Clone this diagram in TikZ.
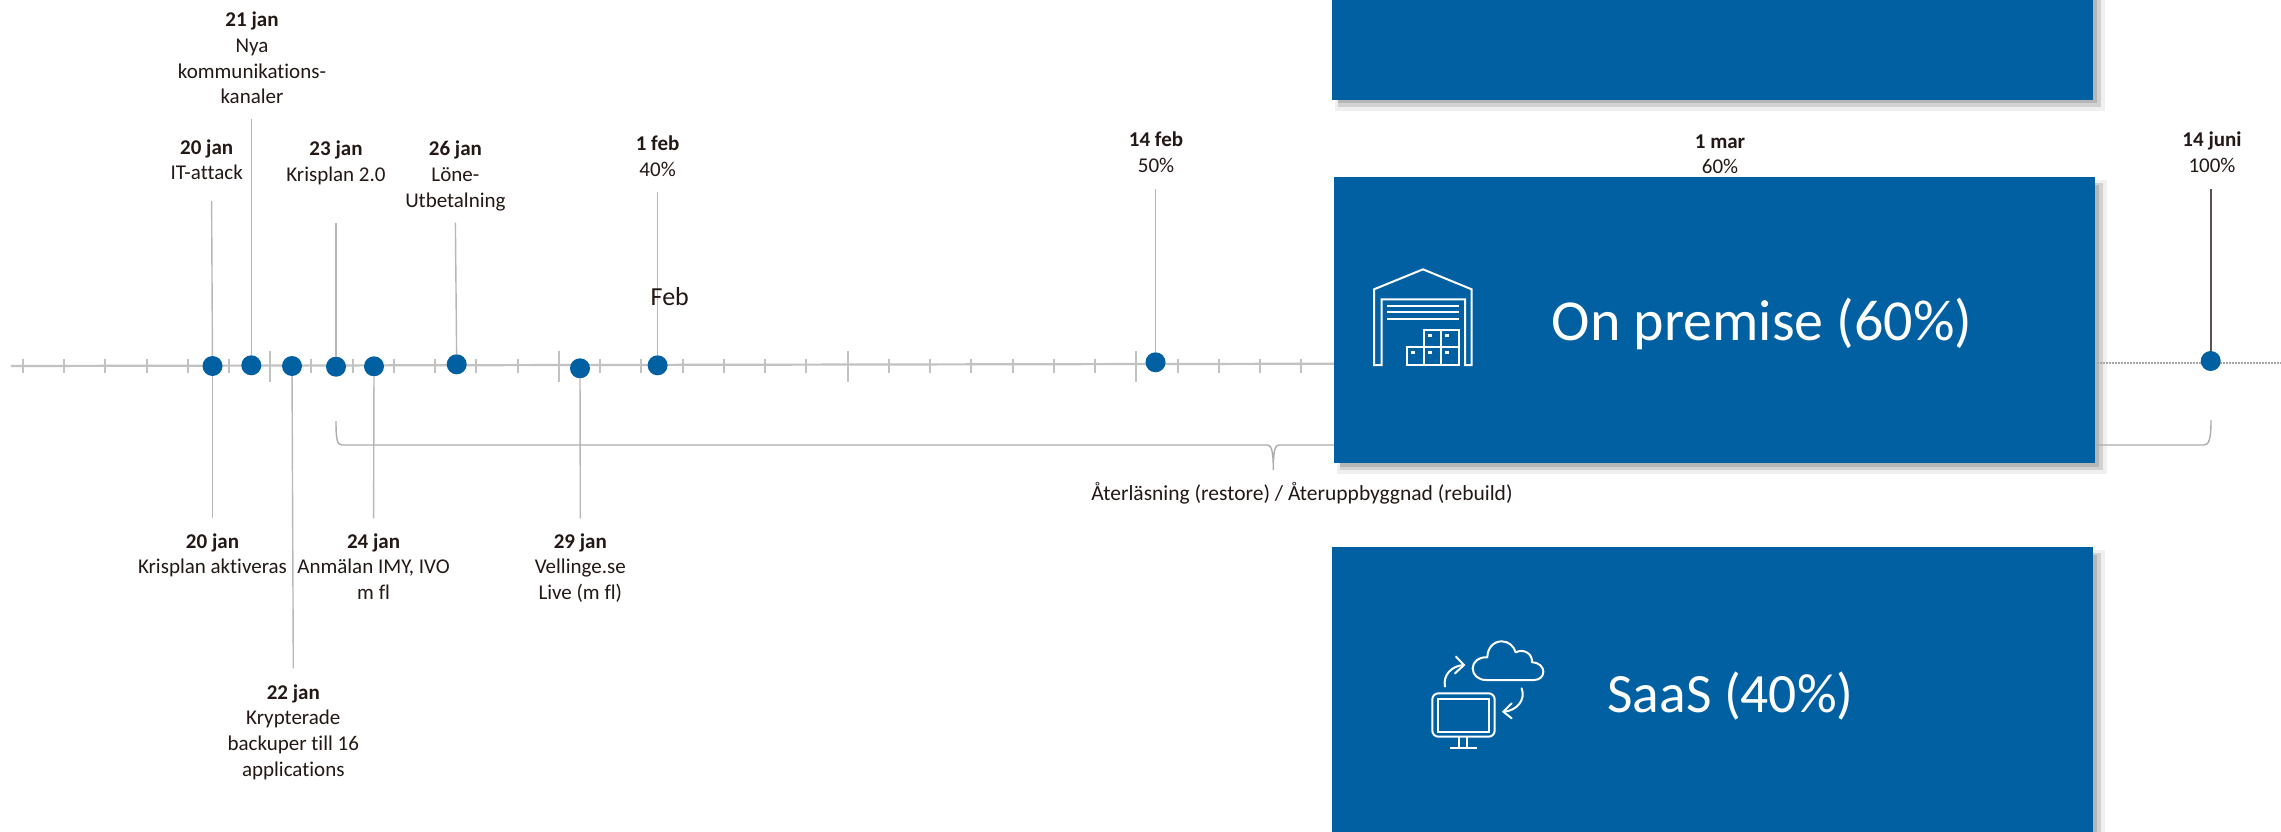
\documentclass[tikz,border=0pt]{standalone}
\usepackage{fontspec}
\setmainfont[Ligatures=CommonOff]{Carlito}
\definecolor{vblue}{HTML}{0060A2}
\definecolor{ink}{HTML}{231815}
\definecolor{axisgrey}{HTML}{C2C2C2}
\definecolor{stemgrey}{HTML}{B8B8B8}
\definecolor{shA}{HTML}{B6B6B6}
\definecolor{shB}{HTML}{D2D2D2}
\definecolor{shC}{HTML}{F0F0F0}
\tikzset{
  bluebox/.style={fill=vblue,draw=none,inner sep=0pt,outer sep=0pt,anchor=north west},
  dotnode/.style={circle,fill=vblue,draw=none,inner sep=0pt,outer sep=0pt,minimum size=20pt},
  stem/.style={draw=stemgrey,line width=1.4pt},
  darkstem/.style={draw=ink!75,line width=1.6pt},
  axisline/.style={draw=axisgrey,line width=2.2pt},
  tickline/.style={draw=axisgrey,line width=2pt},
  dotline/.style={draw=black!35,line width=2pt,dash pattern=on 1.5pt off 1.5pt},
  bracketline/.style={draw=black!32,line width=1.4pt},
  lbl/.style={anchor=north,inner sep=0pt,outer sep=0pt,align=center,text=ink,font=\fontsize{21}{25.7}\selectfont},
  febtext/.style={anchor=base west,inner sep=0pt,text=ink,font=\fontsize{26}{30}\selectfont},
  bigtext/.style={anchor=base,inner sep=0pt,text=white,font=\fontsize{58}{64}\selectfont},
  icon/.style={draw=white,line width=2pt,line join=miter},
}
\newcommand{\evlabel}[5]{\node[lbl] (#1) at (#2,#3-18) {\strut\textbf{#4}\\#5};}
\newcommand{\shadowbands}[4]{%
  \fill[shC] (#1+3,#2+3) rectangle (#3+12,#4+11);
  \fill[shB] (#1+6,#2+6) rectangle (#3+8,#4+7);
  \fill[shA] (#1+6,#2+8) rectangle (#3+4,#4+3.5);}
\begin{document}
\begin{tikzpicture}[x=1pt,y=-1pt]
\useasboundingbox (0,0) rectangle (2281,832);
\fill[white] (0,0) rectangle (2281,832);

% box shadows lie under the lines
\shadowbands{1332}{-12}{2093}{100}
\shadowbands{1334}{177}{2095}{463}
\shadowbands{1332}{547}{2093}{850}

% axis
\coordinate (axL) at (11,366);
\coordinate (axR) at (1340,363.7);
\coordinate (axDotL) at (2097,362.7);
\coordinate (axDotR) at (2281,362.7);
\draw[axisline] (axL) -- (axR);
\foreach \i in {0,...,31}{
  \pgfmathsetmacro\h{mod(\i,7)==6 ? 15.5 : 7.3}
  \draw[tickline] (22.8+41.24*\i,366-\h) -- ++(0,2*\h);
}
\draw[dotline] (axDotL) -- (axDotR);

% dots
\node[dotnode] (d20) at (212.5,366) {};
\node[dotnode] (d21) at (251.3,365.3) {};
\node[dotnode] (d22) at (292,366) {};
\node[dotnode] (d23) at (336,366.7) {};
\node[dotnode] (d24) at (374,366.3) {};
\node[dotnode] (d26) at (456.7,364.3) {};
\node[dotnode] (d29) at (580,368.3) {};
\node[dotnode] (d1f) at (657.6,365.3) {};
\node[dotnode] (d14f) at (1155.5,362.3) {};
\node[dotnode] (d14j) at (2210.7,361) {};

% stem ends
\coordinate (t20) at (211.6,201);
\coordinate (t21) at (251.3,119);
\coordinate (t23) at (336,222.7);
\coordinate (t26) at (455.4,222.7);
\coordinate (t1f) at (657.6,191.7);
\coordinate (t14f) at (1155.5,189);
\coordinate (t14j) at (2210.7,189);
\coordinate (b20) at (212.5,518.3);
\coordinate (b22) at (293.3,668.3);
\coordinate (b24) at (373.6,518.3);
\coordinate (b29) at (580.3,518.3);
\foreach \a/\b in {t20/d20,t21/d21,t23/d23,t26/d26,t1f/d1f,t14f/d14f,b20/d20,b22/d22,b24/d24,b29/d29}
  \draw[stem] (\a) -- (\b);
\draw[darkstem] (t14j) -- (d14j);

% bracket
\coordinate (brL) at (336,421);
\coordinate (brM) at (1273.3,470);
\coordinate (brR) at (2211,420);
\draw[bracketline] (brL) .. controls (336,439) and (337,445) .. (342,445)
  -- (1267,445) .. controls (1271,445) and (1273.3,449) .. (brM)
  .. controls (1273.3,449) and (1275.5,445) .. (1279,445)
  -- (2204,445) .. controls (2209,445) and (2211,439) .. (brR);

% labels
\evlabel{l21}{252}{26.7}{21 jan}{Nya\\kommunikations-\\kanaler}
\evlabel{l20}{206.7}{154.3}{20 jan}{IT-attack}
\evlabel{l23}{336}{156}{23 jan}{Krisplan 2.0}
\evlabel{l26}{455.4}{156}{26 jan}{Löne-\\Utbetalning}
\evlabel{l1f}{657.6}{151}{1 feb}{40\%}
\evlabel{l14f}{1156}{146.7}{14 feb}{50\%}
\evlabel{l1m}{1720}{148.3}{1 mar}{60\%}
\evlabel{l14j}{2212}{147}{14 juni}{100\%}
\evlabel{l20b}{212.5}{548.3}{20 jan}{Krisplan aktiveras}
\evlabel{l24b}{373.6}{548.3}{24 jan}{Anmälan IMY, IVO\\m fl}
\evlabel{l29b}{580.3}{548.3}{29 jan}{Vellinge.se\\Live (m fl)}
\evlabel{l22b}{293.3}{699.3}{22 jan}{Krypterade\\backuper till 16\\applications}
\node[febtext] (feb) at (650.5,305) {Feb};
\node[lbl,anchor=base,font=\fontsize{21.5}{26}\selectfont] (restore) at (1302,500) {Återläsning (restore) / Återuppbyggnad (rebuild)};

% boxes
\node[bluebox,minimum width=761pt,minimum height=100pt] (box1) at (1332,0) {};
\node[bluebox,minimum width=761pt,minimum height=286pt] (box2) at (1334,177) {};
\node[bluebox,minimum width=761pt,minimum height=285pt] (box3) at (1332,547) {};

\node[bigtext] (onprem) at (1762,340) {On premise (60\%)};
\node[bigtext,font=\fontsize{55.5}{62}\selectfont] (saas) at (1730.5,712.7) {SaaS (40\%)};

% warehouse icon
\begin{scope}[shift={(1300,230)},x=0.33333pt,y=-0.33333pt]
  \draw[icon] (222,405) -- (222,178) -- (369,118) -- (515,178) -- (515,405) -- (495,405) -- (495,208) -- (245,208) -- (245,405) -- cycle;
  \draw[icon] (261,228) -- (477,228) (261,247) -- (477,247) (261,267) -- (477,267);
  \draw[icon] (372,352) -- (372,300) -- (476,300) -- (476,405) -- (320,405) -- (320,352) -- (476,352);
  \draw[icon] (424,300) -- (424,405) (372,352) -- (372,405);
  \foreach \x/\y in {390/316,441/316,339/368,390/367,441/367}
    \fill[white] (\x-6,\y-4) rectangle (\x+6,\y+4);
\end{scope}

% cloud / computer icon
\begin{scope}[shift={(1380,620)},x=0.33333pt,y=-0.33333pt]
  \draw[icon,line cap=round,line join=round] (318,180) .. controls (295,180) and (278,165) .. (278,145)
    .. controls (278,125) and (298,110) .. (322,112)
    .. controls (322,85) and (340,64) .. (365,64)
    .. controls (385,64) and (402,78) .. (407,97)
    .. controls (430,85) and (458,100) .. (456,127)
    .. controls (478,127) and (490,142) .. (490,155)
    .. controls (490,170) and (478,180) .. (462,180) -- cycle;
  \draw[icon,rounded corners=6pt] (157,220) rectangle (344,350);
  \draw[icon] (175,236) rectangle (327,335);
  \draw[icon] (238,350) -- (238,383) (262,350) -- (262,383) (210,383) -- (290,383);
  \draw[icon,line cap=round] (195,200) .. controls (188,165) and (215,138) .. (250,135);
  \draw[icon,line cap=round] (228,110) -- (252,135) -- (225,160);
  \draw[icon,line cap=round] (425,205) .. controls (438,240) and (410,272) .. (372,275);
  \draw[icon,line cap=round] (395,250) -- (370,275) -- (395,295);
\end{scope}
\end{tikzpicture}
\end{document}
